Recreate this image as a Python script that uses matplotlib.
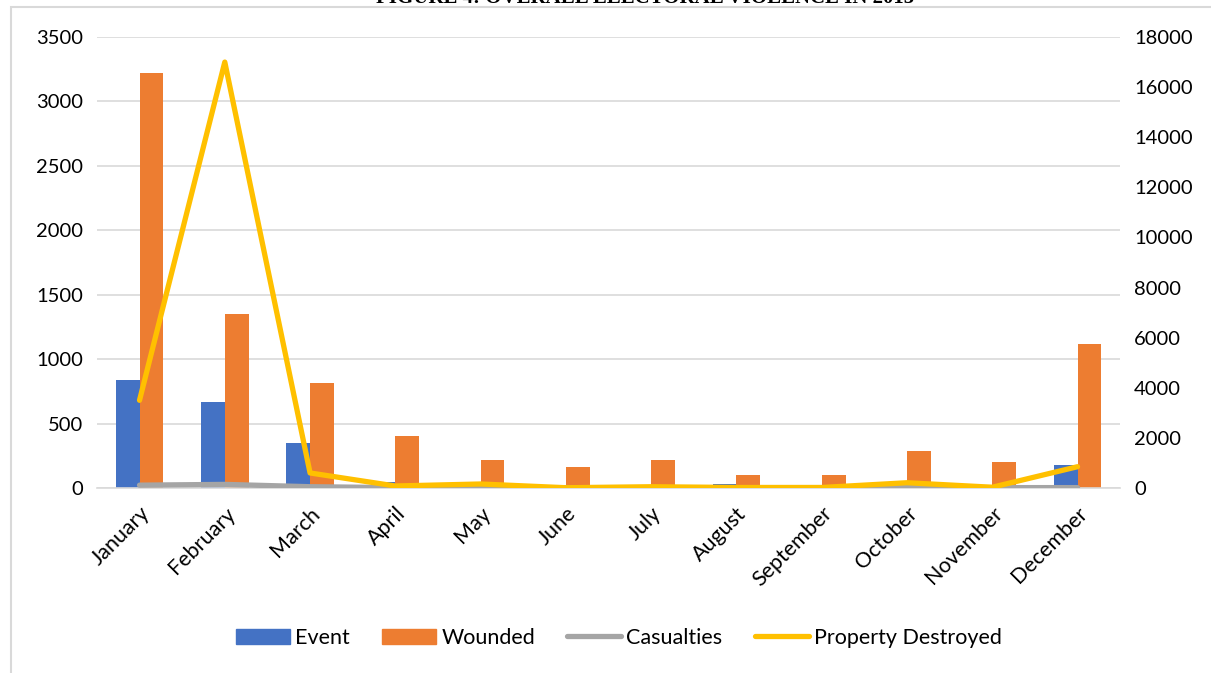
import numpy as np
import matplotlib.pyplot as plt
from matplotlib.patches import Rectangle, Patch
from matplotlib.lines import Line2D
plt.rcParams['font.family'] = ['Lato', 'DejaVu Sans']

months = ["January", "February", "March", "April", "May", "June", "July",
          "August", "September", "October", "November", "December"]
event = [840, 667, 349, 45, 15, 25, 5, 30, 10, 10, 5, 178]
wounded = [3220, 1350, 815, 403, 217, 163, 217, 101, 101, 289, 202, 1120]
casualties = [22, 28, 10, 3, 3, 3, 3, 3, 3, 8, 3, 3]
property_destroyed = [3500, 17000, 600, 80, 160, 10, 50, 20, 20, 210, 30, 850]

blue = '#4472C4'
orange = '#ED7D31'
grey = '#A5A5A5'
yellow = '#FFC000'

fig = plt.figure(figsize=(12.11, 6.73), dpi=100)
ax = fig.add_axes([0.080, 0.2749, 0.845, 0.6701])
ax2 = ax.twinx()

x = np.arange(len(months))
w = 0.28
ax.bar(x - w / 2, event, w, color=blue, zorder=2)
ax.bar(x + w / 2, wounded, w, color=orange, zorder=2)
ax.plot(x, casualties, color=grey, lw=3.8, solid_capstyle='round', zorder=3)
ax2.plot(x, property_destroyed, color=yellow, lw=3.8, solid_capstyle='round',
         solid_joinstyle='round')

ax.set_ylim(0, 3500)
ax.set_yticks(np.arange(0, 3501, 500))
ax2.set_ylim(0, 18000)
ax2.set_yticks(np.arange(0, 18001, 2000))
ax.set_xlim(-0.5, 11.5)
ax.set_xticks(x)
ax.set_xticklabels(months, rotation=45, ha='right', rotation_mode='anchor')
ax.yaxis.grid(True, color='#D9D9D9', lw=1.2, zorder=0)
ax.set_axisbelow(True)

for a in (ax, ax2):
    for s in ('top', 'left', 'right'):
        a.spines[s].set_visible(False)
    a.spines['bottom'].set_color('#D9D9D9')
    a.spines['bottom'].set_linewidth(1.2)
    a.tick_params(length=0, labelsize=14.5, pad=10)
ax.tick_params(axis='x', pad=11, labelsize=15.5)
ax2.spines['bottom'].set_visible(False)

handles = [Patch(color=blue, label='Event'),
           Patch(color=orange, label='Wounded'),
           Line2D([], [], color=grey, lw=3.8, solid_capstyle='round', label='Casualties'),
           Line2D([], [], color=yellow, lw=3.8, solid_capstyle='round', label='Property Destroyed')]
fig.legend(handles=handles, loc='center', bbox_to_anchor=(0.511, 0.052), ncol=4,
           frameon=False, fontsize=15.5, handlelength=2.5, handleheight=0.75,
           columnspacing=1.5, handletextpad=0.25)

fig.text(0.533, 1.003, "FIGURE 4: OVERALL ELECTORAL VIOLENCE IN 2015",
         ha='center', va='center', fontsize=15, fontweight='bold',
         family='Liberation Serif')
fig.patches.append(Rectangle((11 / 1211, -0.1), 1.1, 0.1 + 1 - 7 / 673,
                             transform=fig.transFigure, fill=False,
                             edgecolor='#D9D9D9', lw=1.5))

fig.savefig('out.png', dpi=100)
